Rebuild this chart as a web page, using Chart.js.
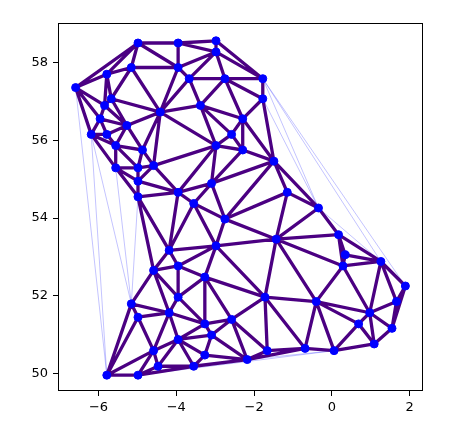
<!DOCTYPE html>
<html><head><meta charset="utf-8">
<script src="https://cdn.jsdelivr.net/npm/chart.js@4.4.1/dist/chart.umd.min.js"></script>
<style>html,body{margin:0;padding:0;background:#fff;}canvas{display:block;}</style>
</head><body>
<canvas id="c" width="465" height="431"></canvas>
<script>
// Point coordinates (degrees longitude / latitude)
const lon = [-5.787,-4.584,-3.953,-3.094,-2.578,-3.266,-4.183,-4.985,-5.157,-3.953,
  -3.953,-4.584,-4.183,-2.979,-2.750,-3.552,-3.094,-3.953,-4.985,-4.985,
  -4.584,-4.870,-4.985,-5.558,-5.558,-5.271,-5.787,-6.188,-5.959,-5.844,
  -6.589,-5.672,-5.787,-5.157,-4.985,-3.953,-2.979,-2.979,-3.953,-3.667,
  -2.750,-1.776,-1.776,-2.292,-2.578,-2.979,-2.292,-1.490,-1.146,-0.344,
  0.172,0.344,0.286,1.261,1.891,1.662,0.974,0.688,1.547,1.089,
  0.057,-0.688,-1.662,-2.177,-3.266,-3.552,-4.469,-4.985,-1.719,-0.401,
  -3.266,-1.432,-4.412,-3.380];
const lat = [49.962,50.592,50.879,50.993,51.395,51.280,51.566,51.451,51.795,51.967,
  52.769,52.655,53.170,53.285,53.973,54.374,54.890,54.660,54.546,54.947,
  55.348,55.749,55.290,55.290,55.863,56.379,56.150,56.150,56.551,56.895,
  57.353,57.066,57.697,57.869,58.499,58.499,58.556,58.270,57.869,57.582,
  57.582,57.582,57.066,56.551,56.150,55.863,55.749,55.462,54.660,54.259,
  53.572,53.056,52.769,52.884,52.254,51.853,51.566,51.280,51.165,50.764,
  50.592,50.650,50.592,50.363,50.478,50.191,50.191,49.962,51.967,51.853,
  52.483,53.457,56.723,56.895];
const xTicks = [-6, -4, -2, 0, 2];
const yTicks = [50, 52, 54, 56, 58];
const maxEdgeLength = 2.0; // triangles with a longer side are masked

// Delaunay triangulation (Bowyer-Watson)
function delaunay(X, Y) {
  const n = X.length;
  const mx = X.reduce((a,b)=>a+b,0)/n, my = Y.reduce((a,b)=>a+b,0)/n;
  const px = X.map(v=>v-mx), py = Y.map(v=>v-my);
  const M = 1000;
  px.push(-M, M, 0); py.push(-M, -M, M);
  function circ(a,b,c){
    const ax=px[a],ay=py[a],bx=px[b],by=py[b],cx=px[c],cy=py[c];
    const d=2*(ax*(by-cy)+bx*(cy-ay)+cx*(ay-by));
    const ux=((ax*ax+ay*ay)*(by-cy)+(bx*bx+by*by)*(cy-ay)+(cx*cx+cy*cy)*(ay-by))/d;
    const uy=((ax*ax+ay*ay)*(cx-bx)+(bx*bx+by*by)*(ax-cx)+(cx*cx+cy*cy)*(bx-ax))/d;
    return {v:[a,b,c],ux,uy,r2:(ax-ux)**2+(ay-uy)**2};
  }
  let tris=[circ(n,n+1,n+2)];
  for(let i=0;i<n;i++){
    const bad=[],keep=[];
    for(const t of tris){
      const d2=(px[i]-t.ux)**2+(py[i]-t.uy)**2;
      if(d2<t.r2*(1-1e-12)) bad.push(t); else keep.push(t);
    }
    const ec=new Map();
    for(const t of bad){
      for(let k=0;k<3;k++){
        const a=t.v[k],b=t.v[(k+1)%3];
        const key=a<b?a+','+b:b+','+a;
        ec.set(key,(ec.get(key)||{a,b,c:0})); ec.get(key).c++;
      }
    }
    for(const e of ec.values()){ if(e.c===1) keep.push(circ(e.a,e.b,i)); }
    tris=keep;
  }
  return tris.filter(t=>t.v.every(v=>v<n)).map(t=>t.v);
}

const tri = delaunay(lon, lat);
const dist=(i,j)=>Math.hypot(lon[i]-lon[j],lat[i]-lat[j]);
const mask = tri.map(t=>Math.max(dist(t[0],t[1]),dist(t[1],t[2]),dist(t[2],t[0]))>maxEdgeLength);

function edgeData(list){
  const seen=new Set(), out=[];
  list.forEach(t=>{for(let k=0;k<3;k++){const a=t[k],b=t[(k+1)%3];const key=a<b?a+','+b:b+','+a;if(seen.has(key))continue;seen.add(key);
    out.push({x:lon[a],y:lat[a]},{x:lon[b],y:lat[b]},{x:null,y:null});}});
  return out;
}
const thinData = edgeData(tri);
const thickData = edgeData(tri.filter((t,i)=>!mask[i]));
const pts = lon.map((v,i)=>({x:v,y:lat[i]}));

const fmt = v => v<0 ? '\u2212'+Math.abs(v) : String(v);
const frame = {id:'frame', afterDatasetsDraw(ch){const a=ch.chartArea,c=ch.ctx;c.save();c.strokeStyle='#000';c.lineWidth=1;
  c.strokeRect(Math.round(a.left)+0.5,Math.round(a.top)+0.5,Math.round(a.right-a.left)-1,Math.round(a.bottom-a.top)-1);c.restore();}};

new Chart(document.getElementById('c'), {
  type:'scatter',
  data:{datasets:[
    {data:pts, showLine:false, pointRadius:4, pointBorderWidth:1, pointBackgroundColor:'#0000ff', pointBorderColor:'#0000ff', order:0},
    {data:thickData, showLine:true, spanGaps:false, pointRadius:0, borderColor:'#4b0082', borderWidth:3.3, borderCapStyle:'round', borderJoinStyle:'round', order:1},
    {data:thinData, showLine:true, spanGaps:false, pointRadius:0, borderColor:'rgba(0,0,255,0.4)', borderWidth:0.6, order:2}
  ]},
  options:{
    responsive:false, animation:false, devicePixelRatio:1,
    layout:{padding:{left:0,top:23,right:42,bottom:0}},
    plugins:{legend:{display:false},tooltip:{enabled:false}},
    events:[],
    scales:{
      x:{type:'linear',min:-7.042,max:2.344,
        afterBuildTicks:s=>{s.ticks=xTicks.map(v=>({value:v}));},
        afterFit:s=>{s.height=40;},
        grid:{display:true,drawOnChartArea:false,drawTicks:true,tickLength:5,color:'#000',lineWidth:1},
        border:{display:false},
        ticks:{callback:fmt,color:'#000',font:{family:'DejaVu Sans',size:13},padding:4,maxRotation:0,autoSkip:false}},
      y:{type:'linear',min:49.555,max:59.013,
        afterBuildTicks:s=>{s.ticks=yTicks.map(v=>({value:v}));},
        afterFit:s=>{s.width=58;},
        grid:{display:true,drawOnChartArea:false,drawTicks:true,tickLength:5,color:'#000',lineWidth:1},
        border:{display:false},
        ticks:{callback:fmt,color:'#000',font:{family:'DejaVu Sans',size:13},padding:5,autoSkip:false}}
    }
  },
  plugins:[frame]
});
</script>
</body></html>
